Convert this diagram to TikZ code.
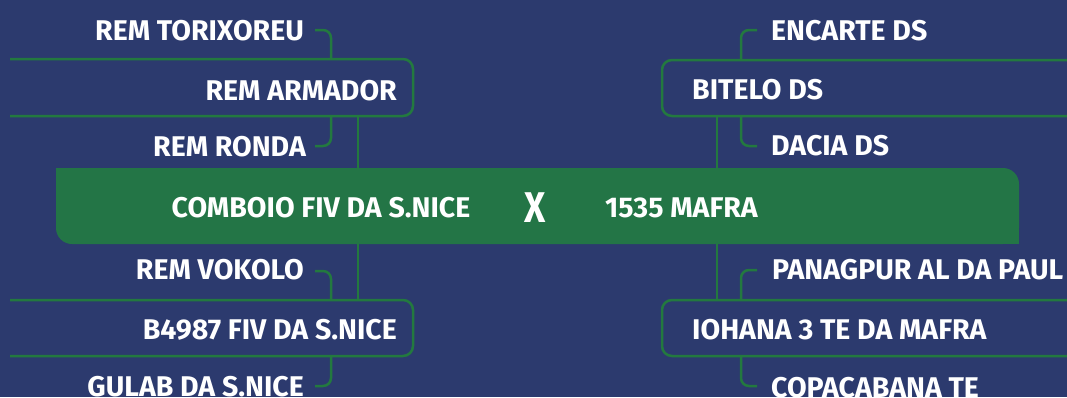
\documentclass[tikz,border=0pt]{standalone}
\usepackage{fontspec}
\setmainfont{Fira Sans}
\newfontfamily\lblfont{Fira Sans Bold}
\definecolor{bg}{HTML}{2C3A6E}
\definecolor{barg}{HTML}{237546}
\definecolor{lineg}{HTML}{23793F}
\begin{document}
\begin{tikzpicture}[x=1pt,y=-1pt,
  lbl/.style={text=white,font=\lblfont\fontsize{28.5}{28.5}\selectfont,inner sep=0pt},
  boxline/.style={draw=lineg,line width=2.5pt,rounded corners=10pt},
  conn/.style={draw=lineg,line width=2.5pt,rounded corners=8pt},
  trunk/.style={draw=lineg,line width=2.5pt}]
\useasboundingbox (0,0) rectangle (1067,397);
\clip (0,0) rectangle (1067,397);
\fill[bg] (0,0) rectangle (1067,397);
% central bar
\fill[barg,rounded corners=16pt] (56,168) rectangle (1019,244);
\fill[barg] (56,168) rectangle (90,200);
\fill[barg] (985,212) rectangle (1019,244);
\coordinate (barTL) at (358,168);
\coordinate (barTR) at (717,168);
\coordinate (barBL) at (358,244);
\coordinate (barBR) at (717,244);
\node[lbl,anchor=base] (home) at (321,217) {COMBOIO FIV DA S.NICE};
\node[lbl,anchor=base west] (away) at (605,217) {1535 MAFRA};
\node[text=white,inner sep=0pt,anchor=base,font=\lblfont\fontsize{43}{43}\selectfont,xscale=0.85] (vs) at (535,222) {X};
% boxes
\draw[boxline] (10,59) -- (413,59) -- (413,116) -- (10,116);
\draw[boxline] (1067,60) -- (662,60) -- (662,116) -- (1067,116);
\draw[boxline] (10,300) -- (413,300) -- (413,356) -- (10,356);
\draw[boxline] (1067,300) -- (662,300) -- (662,356) -- (1067,356);
\coordinate (b1T) at (331,59); \coordinate (b1B) at (331,116); \coordinate (b1K) at (358,116);
\coordinate (b2T) at (741,60); \coordinate (b2B) at (741,116); \coordinate (b2K) at (717,116);
\coordinate (b3T) at (331,300); \coordinate (b3B) at (331,356); \coordinate (b3K) at (358,300);
\coordinate (b4T) at (741,300); \coordinate (b4B) at (741,356); \coordinate (b4K) at (717,300);
\node[lbl,anchor=base east] (armador) at (397,100) {REM ARMADOR};
\node[lbl,anchor=base west] (bitelo) at (692,99) {BITELO DS};
\node[lbl,anchor=base east] (b4987) at (397,339) {B4987 FIV DA S.NICE};
\node[lbl,anchor=base west] (iohana) at (692,339) {IOHANA 3 TE DA MAFRA};
% outer labels
\node[lbl,anchor=base east] (torix) at (304,40) {REM TORIXOREU};
\node[lbl,anchor=base east] (ronda) at (306,156) {REM RONDA};
\node[lbl,anchor=base east] (vokolo) at (304,279) {REM VOKOLO};
\node[lbl,anchor=base east] (gulab) at (304,396) {GULAB DA S.NICE};
\node[lbl,anchor=base west] (encarte) at (771,40) {ENCARTE DS};
\node[lbl,anchor=base west] (dacia) at (771,155) {DACIA DS};
\node[lbl,anchor=base west] (panag) at (772,279) {PANAGPUR AL DA PAUL};
\node[lbl,anchor=base west] (copa) at (771,397) {COPACABANA TE};
\coordinate (c1) at (315,30); \coordinate (c2) at (315,146);
\coordinate (c3) at (315,271); \coordinate (c4) at (315,386);
\coordinate (c5) at (757,30); \coordinate (c6) at (757,146);
\coordinate (c7) at (757,270); \coordinate (c8) at (757,386);
% connectors
\draw[conn] (c1) -| (b1T);
\draw[conn] (c2) -| (b1B);
\draw[conn] (c3) -| (b3T);
\draw[conn] (c4) -| (b3B);
\draw[conn] (c5) -| (b2T);
\draw[conn] (c6) -| (b2B);
\draw[conn] (c7) -| (b4T);
\draw[conn] (c8) -| (b4B);
\draw[trunk] (b1K) -- (barTL);
\draw[trunk] (b2K) -- (barTR);
\draw[trunk] (barBL) -- (b3K);
\draw[trunk] (barBR) -- (b4K);
\end{tikzpicture}
\end{document}
